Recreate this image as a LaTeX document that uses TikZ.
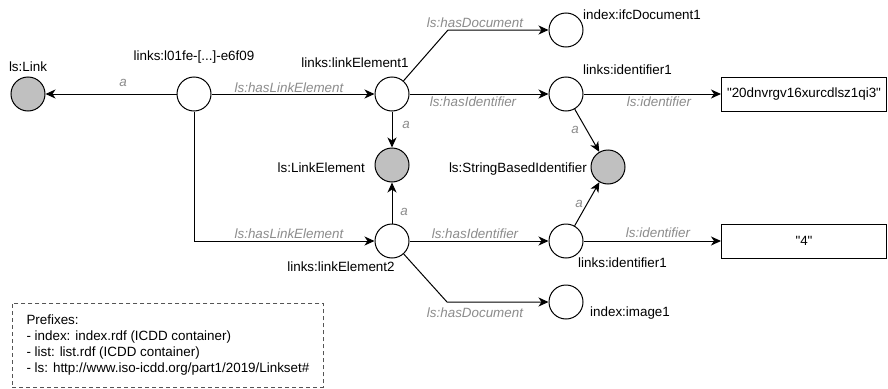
\documentclass[tikz,border=0pt]{standalone}
\usepackage{fontspec}
\setmainfont{Liberation Sans}
\newfontfamily\plainquotes{Liberation Sans}[Ligatures=TeXOff]
\usetikzlibrary{arrows.meta}
\definecolor{nodegray}{HTML}{C0C0C0}
\definecolor{lblgray}{HTML}{8C8C8C}
\definecolor{legendgray}{HTML}{555555}
\begin{document}
\begin{tikzpicture}[x=1pt,y=-1pt,
  font=\fontsize{13.4}{16}\selectfont,
  res/.style={circle,draw,line width=1pt,minimum size=34pt,inner sep=0pt,fill=white},
  cls/.style={res,fill=nodegray},
  lit/.style={draw,line width=1pt,minimum width=165pt,minimum height=34pt,inner sep=0pt,font=\fontsize{13.4}{16}\plainquotes},
  lbl/.style={inner sep=0pt},
  elbl/.style={inner sep=0pt,text=lblgray,font=\fontsize{13.4}{16}\selectfont\itshape},
  arr/.style={line width=1pt,-{Stealth[length=10pt,width=9pt,inset=3pt]}},
  legendbox/.style={draw=legendgray,dash pattern=on 4pt off 3pt,line width=0.8pt,minimum width=311pt,minimum height=84pt,align=left,inner sep=0pt}
]
\fill[white] (0,0) rectangle (888,388);
\useasboundingbox (0,0) rectangle (888,388);

% resource nodes
\node[cls] (link) at (28,94) {};
\node[res] (main) at (194,94) {};
\node[res] (le1) at (392,94) {};
\node[res] (le2) at (392,241) {};
\node[cls] (lel) at (392,165) {};
\node[res] (doc1) at (566,30) {};
\node[res] (id1) at (566,94) {};
\node[res] (id2) at (566,241) {};
\node[res] (img) at (566,302) {};
\node[cls] (sbi) at (608,167) {};
\node[lit] (v1) at (804,94) {"20dnvrgv16xurcdlsz1qi3"};
\node[lit] (v2) at (804,241) {"4"};

% node labels
\node[lbl] (linkL) at (28,67) {ls:Link};
\node[lbl] (mainL) at (194,57) {links:l01fe-[...]-e6f09};
\node[lbl] (le1L) at (355,63) {links:linkElement1};
\node[lbl,anchor=west] (doc1L) at (583,15) {index:ifcDocument1};
\node[lbl,anchor=west] (id1L) at (583,70) {links:identifier1};
\node[lbl,anchor=east] (lelL) at (365,168) {ls:LinkElement};
\node[lbl,anchor=east] (sbiL) at (587,169) {ls:StringBasedIdentifier};
\node[lbl] (le2L) at (341,267) {links:linkElement2};
\node[lbl,anchor=west] (id2L) at (578,263) {links:identifier1};
\node[lbl,anchor=west] (imgL) at (590,313) {index:image1};

% bend points
\coordinate (b1) at (448,30);
\coordinate (b2) at (447,302);

% connectors
\draw[arr] (main) -- (link);
\draw[arr] (main) -- (le1);
\draw[arr] (main) |- (le2);
\draw[arr] (le1) -- (id1);
\draw[arr] (le1) -- (b1) -- (doc1);
\draw[arr] (le1) -- (lel);
\draw[arr] (le2) -- (lel);
\draw[arr] (le2) -- (id2);
\draw[arr] (le2) -- (b2) -- (img);
\draw[arr] (id1) -- (v1);
\draw[arr] (id2) -- (v2);
\draw[arr] (id1) -- (sbi);
\draw[arr] (id2) -- (sbi);

% edge labels
\node[elbl] (eA0) at (123,83) {a};
\node[elbl] (eHL1) at (289,88) {ls:hasLinkElement};
\node[elbl] (eHL2) at (289,234) {ls:hasLinkElement};
\node[elbl] (eHD1) at (475,23) {ls:hasDocument};
\node[elbl] (eHD2) at (475,313) {ls:hasDocument};
\node[elbl] (eHI1) at (473,102) {ls:hasIdentifier};
\node[elbl] (eHI2) at (475,234) {ls:hasIdentifier};
\node[elbl] (eI1) at (659,102) {ls:identifier};
\node[elbl] (eI2) at (658,233) {ls:identifier};
\node[elbl] (eA1) at (406,125) {a};
\node[elbl] (eA2) at (404,212) {a};
\node[elbl] (eA3) at (575,130) {a};
\node[elbl] (eA4) at (579,204) {a};

% legend
\node[legendbox,anchor=north west] (legend) at (12,303) {Prefixes:\\- index: index.rdf (ICDD container)\\- list: list.rdf (ICDD container)\\- ls: http://www.iso-icdd.org/part1/2019/Linkset\#};
\end{tikzpicture}
\end{document}
